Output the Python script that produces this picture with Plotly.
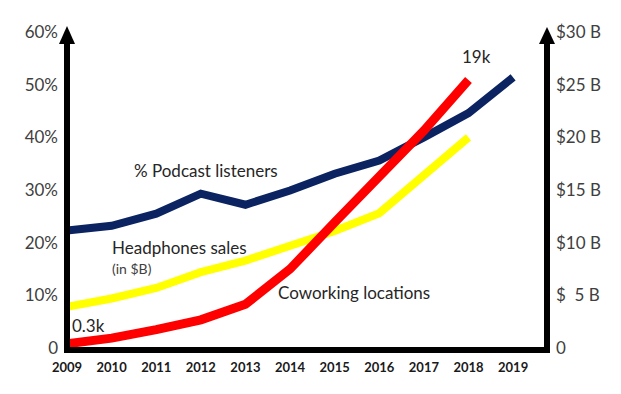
import plotly.graph_objects as go

years = [2009, 2010, 2011, 2012, 2013, 2014, 2015, 2016, 2017, 2018, 2019]
podcast_pct = [22.3, 23.2, 25.5, 29.3, 27.2, 29.9, 33.1, 35.6, 40.0, 44.6, 51.4]
headphones_b = [3.9, 4.7, 5.7, 7.2, 8.3, 9.7, 11.1, 12.8, 16.3, 20.0]
coworking_k = [0.3, 0.7, 1.3, 2.0, 3.1, 5.6, 8.9, 12.1, 15.4, 19.0]

left_ticks = [0, 10, 20, 30, 40, 50, 60]
left_text = ["0", "10%", "20%", "30%", "40%", "50%", "60%"]
right_ticks = [0, 5, 10, 15, 20, 25, 30]
right_text = ["0", "$\u00a0\u00a05 B", "$10 B", "$15 B", "$20 B", "$25 B", "$30 B"]

NAVY = "#0b2360"
RED = "#ff0000"
YELLOW = "#ffff00"
GRAY = "#404040"
TXT = "#262626"
FONT = "Lato"

fig = go.Figure()
fig.add_trace(go.Scatter(x=years, y=podcast_pct, mode="lines",
                         line=dict(color=NAVY, width=8), yaxis="y",
                         hoverinfo="skip", showlegend=False))
fig.add_trace(go.Scatter(x=years[:len(headphones_b)], y=headphones_b, mode="lines",
                         line=dict(color=YELLOW, width=8), yaxis="y2",
                         hoverinfo="skip", showlegend=False))
fig.add_trace(go.Scatter(x=years[:len(coworking_k)], y=coworking_k, mode="lines",
                         line=dict(color=RED, width=9), yaxis="y3",
                         hoverinfo="skip", showlegend=False))

OFF = 8  # page body margin
W, H = 621 - OFF, 394 - OFF
L = 67 - OFF
T = 32 - OFF
R = W - (547 - OFF)
B = H - (348 - OFF)
pw, ph = W - L - R, H - T - B


def px(x):
    return (x - OFF - L) / pw


def py(y):
    return (H - B - (y - OFF)) / ph


fig.update_layout(
    width=W, height=H,
    margin=dict(l=L, r=R, t=T, b=B),
    plot_bgcolor="white", paper_bgcolor="white",
    xaxis=dict(range=[2009, 2019.76], tickvals=years, ticktext=[str(y) for y in years],
               showgrid=False, zeroline=False, showline=False, ticks="",
               tickfont=dict(family=FONT, size=13, color="#1a1a1a", weight="bold"),
               ticklabelstandoff=10),
    yaxis=dict(range=[0, 60], tickvals=left_ticks, ticktext=left_text,
               showgrid=False, zeroline=False, showline=False, ticks="",
               tickfont=dict(family=FONT, size=17, color=GRAY),
               ticklabelstandoff=8),
    yaxis2=dict(range=[0, 30], tickvals=right_ticks, ticktext=right_text,
                overlaying="y", side="right",
                showgrid=False, zeroline=False, showline=False, ticks="",
                tickfont=dict(family=FONT, size=17, color=GRAY),
                ticklabelstandoff=8),
    yaxis3=dict(range=[0, 22.4], overlaying="y", visible=False),
)

# axis lines with arrowheads
lw = 6
shapes = [
    dict(type="line", xref="paper", yref="paper", x0=px(67), x1=px(67),
         y0=py(353), y1=py(40), line=dict(color="black", width=lw)),
    dict(type="line", xref="paper", yref="paper", x0=px(547), x1=px(547),
         y0=py(353), y1=py(40), line=dict(color="black", width=lw)),
    dict(type="line", xref="paper", yref="paper", x0=px(64), x1=px(550),
         y0=py(350), y1=py(350), line=dict(color="black", width=lw)),
    dict(type="path", xref="paper", yref="paper",
         path=f"M {px(59)},{py(44)} L {px(75)},{py(44)} L {px(67)},{py(26)} Z",
         fillcolor="black", line=dict(width=0)),
    dict(type="path", xref="paper", yref="paper",
         path=f"M {px(539)},{py(44)} L {px(555)},{py(44)} L {px(547)},{py(27)} Z",
         fillcolor="black", line=dict(width=0)),
]
fig.update_layout(shapes=shapes)


def ann(text, x, y, size, anchor="left", color=TXT):
    return dict(text=text, xref="paper", yref="paper", x=px(x), y=py(y),
                xanchor=anchor, yanchor="middle", showarrow=False,
                font=dict(family=FONT, size=size, color=color))


fig.update_layout(annotations=[
    ann("% Podcast listeners", 206, 170, 17, "center"),
    ann("Headphones sales", 110, 247, 17),
    ann("(in $B)", 110, 268, 14, color="#404040"),
    ann("Coworking locations", 276, 292, 17),
    ann("0.3k", 70, 325, 17),
    ann("19k", 460, 57, 17),
])

fig.write_html("out.html")
